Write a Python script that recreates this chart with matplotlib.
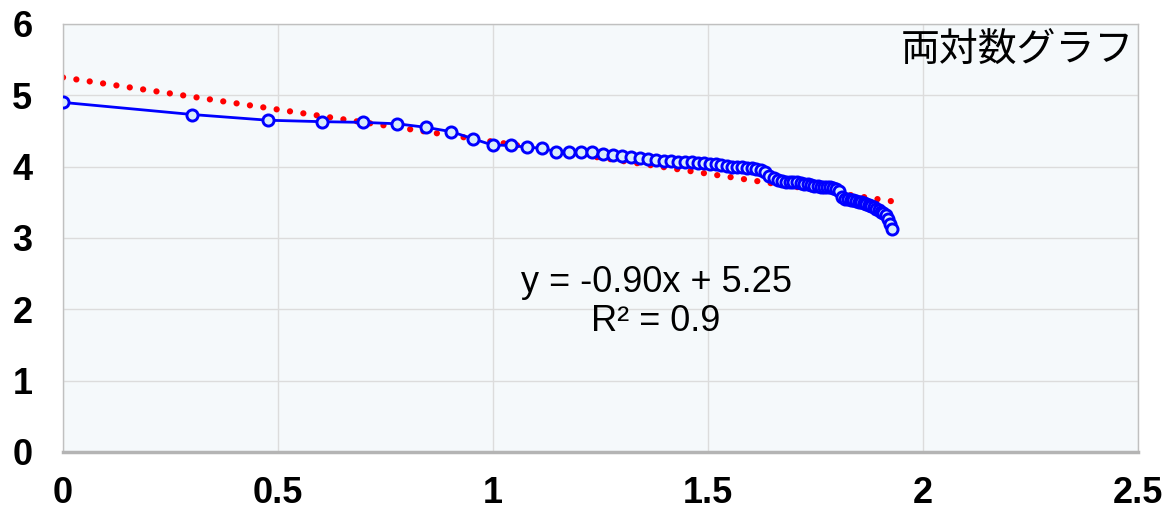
import numpy as np
import matplotlib.pyplot as plt

# 順位 1..85 の頻度（常用対数）
rank = list(range(1, 86))
log_freq = [
    4.90, 4.73, 4.65, 4.63, 4.62, 4.60, 4.55, 4.49, 4.39, 4.30,
    4.30, 4.27, 4.26, 4.21, 4.21, 4.20, 4.20, 4.18, 4.16, 4.15,
    4.14, 4.12, 4.10, 4.09, 4.08, 4.08, 4.07, 4.06, 4.06, 4.05,
    4.05, 4.04, 4.03, 4.02, 4.01, 4.00, 3.99, 3.99, 3.98, 3.98,
    3.97, 3.95, 3.92, 3.87, 3.84, 3.81, 3.80, 3.79, 3.79, 3.78,
    3.78, 3.77, 3.76, 3.75, 3.74, 3.73, 3.73, 3.72, 3.72, 3.71,
    3.71, 3.70, 3.69, 3.66, 3.58, 3.55, 3.54, 3.53, 3.53, 3.52,
    3.51, 3.50, 3.49, 3.47, 3.46, 3.45, 3.43, 3.41, 3.39, 3.37,
    3.35, 3.32, 3.27, 3.20, 3.12,
]

# 近似直線
slope = -0.90
intercept = 5.25
r2 = 0.9

title = '両対数グラフ'
x_ticks = [0, 0.5, 1, 1.5, 2, 2.5]
x_tick_labels = ['0', '0.5', '1', '1.5', '2', '2.5']
y_ticks = [0, 1, 2, 3, 4, 5, 6]

log_rank = np.log10(rank)

fig = plt.figure(figsize=(11.62, 5.09), dpi=100)
ax = fig.add_axes([0.0542, 0.112, 0.9248, 0.841])
ax.set_facecolor('#f5f9fb')

# トレンドライン（赤の点線）
tx = np.array([0, log_rank.max()])
ax.plot(tx, slope * tx + intercept, color='#ff0000', linewidth=4.5,
        linestyle=(0, (0.01, 2.15)), dash_capstyle='round', zorder=2)

# データ
ax.plot(log_rank, log_freq, color='#0000ff', linewidth=2, marker='o',
        markersize=8, markerfacecolor='#d8ecfb', markeredgecolor='#0000ff',
        markeredgewidth=2.1, zorder=3)

ax.set_xlim(0, 2.5)
ax.set_ylim(0, 6)
ax.set_xticks(x_ticks)
ax.set_xticklabels(x_tick_labels)
ax.set_yticks(y_ticks)

ax.tick_params(axis='both', length=0, labelsize=26)
ax.tick_params(axis='x', pad=17)
ax.tick_params(axis='y', pad=22)
for lbl in ax.get_xticklabels() + ax.get_yticklabels():
    lbl.set_fontweight('bold')
    lbl.set_fontfamily('Liberation Sans')

ax.grid(True, color='#dcdcdc', linewidth=1)
ax.set_axisbelow(True)
for side in ['top', 'right', 'left']:
    ax.spines[side].set_color('#c0c0c0')
    ax.spines[side].set_linewidth(1)
ax.spines['bottom'].set_color('#b4b4b4')
ax.spines['bottom'].set_linewidth(2.5)

ax.text(0.997, 0.983, title, transform=ax.transAxes, ha='right', va='top',
        fontsize=28, family=['Noto Sans CJK JP', 'DejaVu Sans'])

ax.text(1.38, 2.10, f'y = {slope:.2f}x + {intercept:.2f}\nR² = {r2}',
        ha='center', va='center', fontsize=26, linespacing=1.15,
        family=['Liberation Sans', 'DejaVu Sans'])

fig.savefig('out.png', dpi=100)
